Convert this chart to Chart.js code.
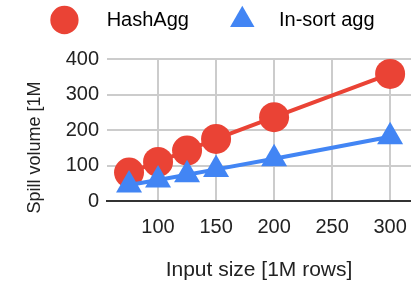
<!DOCTYPE html>
<html>
<head>
<meta charset="utf-8">
<script src="https://cdn.jsdelivr.net/npm/chart.js@4"></script>
<style>
  html, body { margin: 0; padding: 0; background: #fff; }
  #wrap { width: 411px; height: 287px; }
</style>
</head>
<body>
<div id="wrap"><canvas id="c" width="411" height="287"></canvas></div>
<script>
// ---- data ----
const inputSizes = [75, 100, 125, 150, 200, 300];
const hashAgg = [80, 110, 142, 175, 236, 358];
const inSortAgg = [45, 59, 74, 89, 119, 181];
const xTickValues = [100, 150, 200, 250, 300];
const yTickValues = [0, 100, 200, 300, 400];
const seriesNames = ['HashAgg', 'In-sort agg'];
const xTitle = 'Input size [1M rows]';
const yTitle = 'Spill volume [1M';

const RED = '#EA4335';
const BLUE = '#4285F4';
const FONT = 'Arial, "Liberation Sans", sans-serif';

function pts(vals) { return inputSizes.map((x, i) => ({ x: x, y: vals[i] })); }

// extra space between legend and plot area
const legendGap = {
  id: 'legendGap',
  beforeLayout(chart) {
    const lg = chart.legend;
    if (lg && !lg.__gap) {
      const orig = lg.fit.bind(lg);
      lg.fit = function () { orig(); this.height += 19; };
      lg.__gap = true;
    }
  }
};

const ctx = document.getElementById('c').getContext('2d');
new Chart(ctx, {
  type: 'line',
  plugins: [legendGap],
  data: {
    datasets: [
      {
        label: seriesNames[1],
        data: pts(inSortAgg),
        borderColor: BLUE,
        backgroundColor: BLUE,
        borderWidth: 4,
        pointStyle: 'triangle',
        pointRadius: 15,
        pointBorderWidth: 0,
        pointBackgroundColor: BLUE,
        clip: false,
        order: 0
      },
      {
        label: seriesNames[0],
        data: pts(hashAgg),
        borderColor: RED,
        backgroundColor: RED,
        borderWidth: 4,
        pointStyle: 'circle',
        pointRadius: 15,
        pointBorderWidth: 0,
        pointBackgroundColor: RED,
        clip: false,
        order: 1
      }
    ]
  },
  options: {
    responsive: false,
    animation: false,
    devicePixelRatio: 1,
    layout: { autoPadding: false, padding: { left: 18, top: 0, right: 0, bottom: 0 } },
    plugins: {
      tooltip: { enabled: false },
      legend: {
        position: 'top',
        align: 'center',
        labels: {
          usePointStyle: true,
          padding: 10,
          color: '#222',
          font: { family: FONT, size: 20 },
          generateLabels: function (chart) {
            return [
              { text: '    ' + seriesNames[0] + '      ', fillStyle: RED, strokeStyle: RED, lineWidth: 0, pointStyle: 'circle', datasetIndex: 1, hidden: false },
              { text: '   ' + seriesNames[1], fillStyle: BLUE, strokeStyle: BLUE, lineWidth: 0, pointStyle: 'triangle', datasetIndex: 0, hidden: false }
            ];
          }
        }
      }
    },
    scales: {
      x: {
        type: 'linear',
        min: 56,
        max: 318,
        afterBuildTicks: function (scale) { scale.ticks = xTickValues.map(v => ({ value: v })); },
        afterFit: function (scale) { scale.height = 86; scale.paddingLeft = 0; scale.paddingRight = 0; },
        grid: { color: '#cccccc', lineWidth: 2, drawTicks: false },
        border: { display: true, color: '#333333', width: 2 },
        ticks: { padding: 14, color: '#222', font: { family: FONT, size: 20 }, maxRotation: 0, callback: v => String(v) },
        title: { display: true, text: xTitle, color: '#222', font: { family: FONT, size: 21 }, padding: { top: 4, bottom: 4 } }
      },
      y: {
        type: 'linear',
        min: 0,
        max: 400,
        afterBuildTicks: function (scale) { scale.ticks = yTickValues.map(v => ({ value: v })); },
        afterFit: function (scale) { scale.width = 89; },
        grid: {
          color: c => (c.tick && c.tick.value === 0) ? 'rgba(0,0,0,0)' : '#cccccc',
          lineWidth: 2,
          drawTicks: false
        },
        border: { display: false },
        ticks: { padding: 8, color: '#222', font: { family: FONT, size: 20 }, callback: v => String(v) },
        title: { display: true, text: yTitle + '       ', color: '#222', font: { family: FONT, size: 18 }, padding: { top: 6, bottom: 0 } }
      }
    }
  }
});
</script>
</body>
</html>
